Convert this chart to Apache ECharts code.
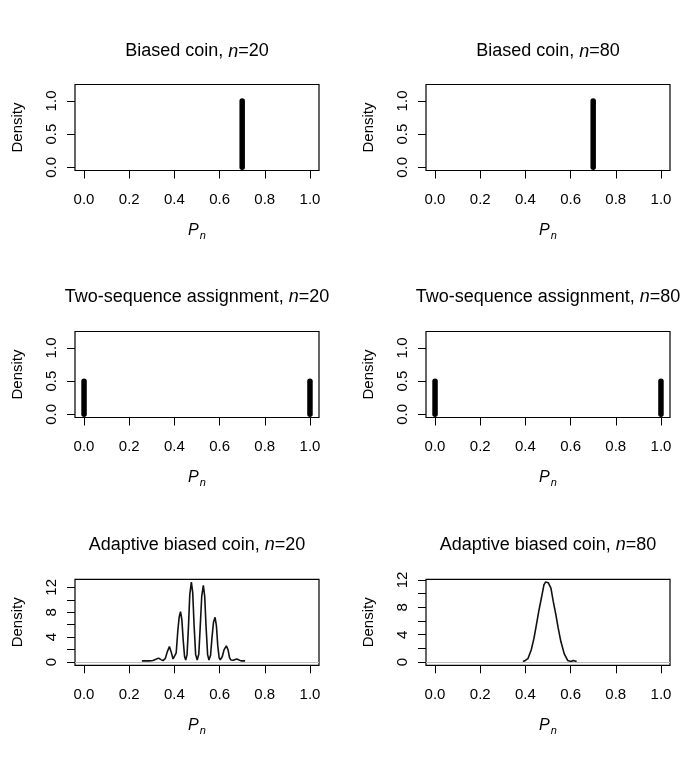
<!DOCTYPE html>
<html>
<head>
<meta charset="utf-8">
<title>Distribution of P_n</title>
<script src="https://cdn.jsdelivr.net/npm/echarts@6/dist/echarts.min.js"></script>
<style>
  html, body { margin: 0; padding: 0; background: #fff; }
  #mychart { width: 696px; height: 768px; }
</style>
</head>
<body>
<div id="mychart"></div>
<script>
// tick positions
var xTicks = [0, 0.2, 0.4, 0.6, 0.8, 1.0]
var probTicks = [0, 0.5, 1.0]
var densTicks = [0, 2, 4, 6, 8, 10, 12]
var densLabels = [0, 4, 8, 12]

// biased coin: all mass at 0.7
var biasedCoin20 = [[0.7, 0], [0.7, 1]]
var biasedCoin80 = [[0.7, 0], [0.7, 1]]

// two-sequence assignment: half at 0, half at 1
var twoSeq20Low = [[0, 0], [0, 0.5]]
var twoSeq20High = [[1, 0], [1, 0.5]]
var twoSeq80Low = [[0, 0], [0, 0.5]]
var twoSeq80High = [[1, 0], [1, 0.5]]

// adaptive biased coin, density estimates
var adaptive20 = [
  [0.256, 0.2], [0.29, 0.2], [0.305, 0.25], [0.318, 0.45], [0.330, 0.64], [0.340, 0.4], [0.350, 0.25],
  [0.360, 0.6], [0.368, 1.6], [0.378, 2.5], [0.386, 1.6], [0.394, 0.5], [0.401, 0.35],
  [0.408, 1.5], [0.415, 5.0], [0.421, 7.2], [0.427, 8.1], [0.433, 6.8], [0.439, 3.5], [0.445, 0.9], [0.450, 0.35],
  [0.456, 1.2], [0.462, 5.5], [0.468, 10.8], [0.475, 12.85], [0.481, 11.2], [0.487, 6.0], [0.494, 1.2], [0.501, 0.35],
  [0.508, 1.3], [0.514, 5.5], [0.521, 10.6], [0.528, 12.3], [0.534, 10.6], [0.540, 5.8], [0.547, 1.2], [0.553, 0.35],
  [0.560, 1.1], [0.566, 3.8], [0.573, 6.4], [0.580, 7.2], [0.586, 5.8], [0.592, 2.6], [0.598, 0.7], [0.603, 0.35],
  [0.612, 0.9], [0.620, 2.0], [0.630, 2.6], [0.638, 1.9], [0.644, 0.7], [0.650, 0.35],
  [0.660, 0.3], [0.668, 0.45], [0.676, 0.5], [0.684, 0.35], [0.695, 0.2], [0.713, 0.2]
]
var adaptive80 = [
  [0.389, 0.1], [0.400, 0.25], [0.411, 0.5], [0.426, 1.8], [0.438, 3.5], [0.449, 5.5], [0.459, 7.4],
  [0.471, 9.4], [0.482, 11.3], [0.489, 11.7], [0.495, 11.65], [0.501, 11.6], [0.513, 10.8], [0.523, 8.9],
  [0.535, 6.9], [0.545, 5.0], [0.557, 3.0], [0.572, 1.2], [0.587, 0.25], [0.602, 0.1], [0.612, 0.25], [0.627, 0.1]
]

var FONT = 'Liberation Sans'

var panels = [
  { name: 'Biased coin', n: 20, kind: 'prob', data: [biasedCoin20] },
  { name: 'Biased coin', n: 80, kind: 'prob', data: [biasedCoin80] },
  { name: 'Two-sequence assignment', n: 20, kind: 'prob', data: [twoSeq20Low, twoSeq20High] },
  { name: 'Two-sequence assignment', n: 80, kind: 'prob', data: [twoSeq80Low, twoSeq80High] },
  { name: 'Adaptive biased coin', n: 20, kind: 'dens', data: [adaptive20], yMin: -0.51, yMax: 13.29 },
  { name: 'Adaptive biased coin', n: 80, kind: 'dens', data: [adaptive80], yMin: -0.465, yMax: 12.1 }
]

var colLeft = [75, 426]
var rowTop = [84.5, 331.5, 579.3]
var titleTop = [42.5, 288, 536]
var boxW = 244
var boxH = 86

var grids = []
var xAxes = []
var yAxes = []
var titles = []
var series = []

panels.forEach(function (p, i) {
  var col = i % 2
  var row = Math.floor(i / 2)
  grids.push({
    left: colLeft[col], top: rowTop[row], width: boxW, height: boxH,
    show: true, borderColor: '#000', borderWidth: 1.2, backgroundColor: 'transparent'
  })
  titles.push({
    text: '{a|' + p.name + ', }{i|n}{a|=' + p.n + '}',
    left: colLeft[col] + boxW / 2,
    top: titleTop[row],
    textAlign: 'center',
    padding: 0,
    textStyle: {
      fontWeight: 'normal',
      rich: {
        a: { fontFamily: FONT, fontSize: 18, fontWeight: 'normal', color: '#000' },
        i: { fontFamily: FONT, fontSize: 18, fontWeight: 'normal', color: '#000', fontStyle: 'italic' }
      }
    }
  })
  xAxes.push({
    gridIndex: i, type: 'value', min: -0.04, max: 1.04,
    axisLine: { show: false, onZero: false },
    splitLine: { show: false },
    axisTick: { show: true, length: 8, customValues: xTicks, lineStyle: { color: '#000', width: 1 } },
    axisLabel: {
      customValues: xTicks, margin: 22, color: '#000', fontFamily: FONT, fontSize: 15,
      formatter: function (v) { return v.toFixed(1) }
    },
    name: '{p|P}{s|n}',
    nameLocation: 'middle',
    nameGap: 52,
    nameTextStyle: {
      rich: {
        p: { fontFamily: FONT, fontSize: 16, fontStyle: 'italic', color: '#000', lineHeight: 17, verticalAlign: 'top' },
        s: { fontFamily: FONT, fontSize: 11, fontStyle: 'italic', color: '#000', padding: [8, 0, 0, 1], verticalAlign: 'bottom' }
      }
    }
  })
  var isProb = p.kind === 'prob'
  yAxes.push({
    gridIndex: i, type: 'value',
    min: isProb ? -0.048 : p.yMin,
    max: isProb ? 1.248 : p.yMax,
    axisLine: { show: false, onZero: false },
    splitLine: { show: false },
    axisTick: { show: true, length: 8, customValues: isProb ? probTicks : densTicks, lineStyle: { color: '#000', width: 1 } },
    axisLabel: {
      customValues: isProb ? probTicks : densLabels,
      rotate: 90, margin: 16, color: '#000', fontFamily: FONT, fontSize: 15,
      formatter: function (v) { return isProb ? v.toFixed(1) : String(v) }
    },
    name: 'Density',
    nameLocation: 'middle',
    nameGap: 50,
    nameTextStyle: { fontFamily: FONT, fontSize: 15, color: '#000' }
  })

  p.data.forEach(function (d) {
    if (isProb) {
      series.push({
        type: 'line', xAxisIndex: i, yAxisIndex: i, data: d,
        showSymbol: false, symbol: 'none', silent: true,
        lineStyle: { color: '#000', width: 5.5, cap: 'round' }
      })
    } else {
      series.push({
        type: 'line', xAxisIndex: i, yAxisIndex: i, data: d,
        showSymbol: false, symbol: 'none', silent: true,
        lineStyle: { color: '#111', width: 1.6 },
        markLine: {
          silent: true, symbol: ['none', 'none'], label: { show: false },
          lineStyle: { color: '#bdbdbd', type: 'solid', width: 1 },
          data: [{ yAxis: 0 }]
        }
      })
    }
  })
})

var chartDom = document.getElementById('mychart')
var myChart = echarts.init(chartDom, null, { renderer: 'canvas' })
var option = {
  animation: false,
  backgroundColor: '#fff',
  title: titles,
  grid: grids,
  xAxis: xAxes,
  yAxis: yAxes,
  series: series
}
myChart.setOption(option)
</script>
</body>
</html>
